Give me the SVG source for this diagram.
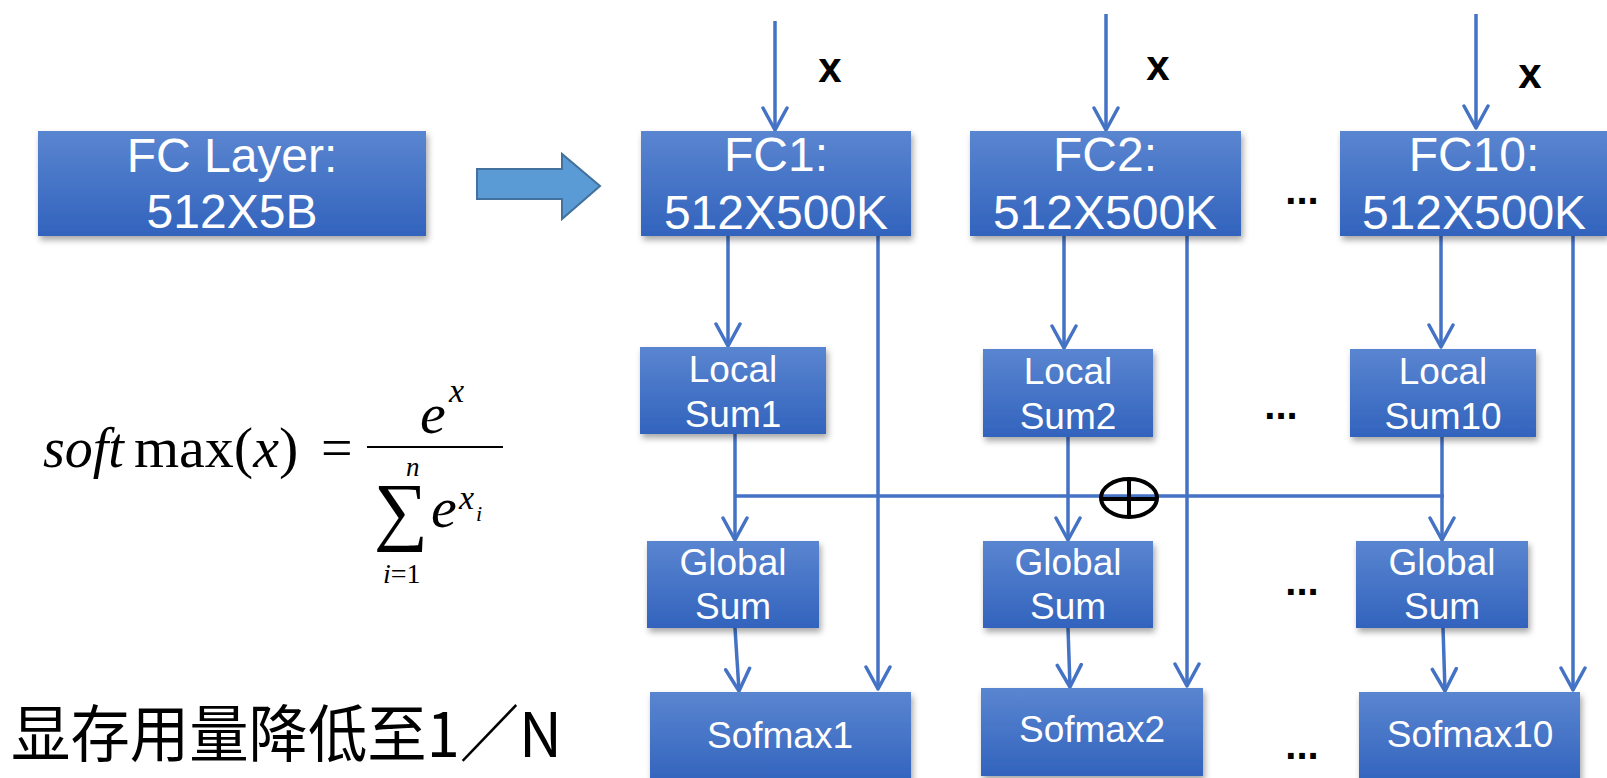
<svg xmlns="http://www.w3.org/2000/svg" width="1607" height="778" viewBox="0 0 1607 778">
<style>
.box{fill:url(#g);filter:url(#sh)}
.t{font-family:"Liberation Sans",Arial,sans-serif;fill:#fff;text-anchor:middle}
.big{font-size:48px}
.sm{font-size:37px}
.c{stroke:#4472c4;stroke-width:3.5;fill:none}
.ca{stroke:#4472c4;stroke-width:3.5;fill:none;marker-end:url(#arr)}
.lbl{font-family:"Liberation Sans",Arial,sans-serif;font-weight:bold;font-size:42px;fill:#000;text-anchor:middle}
.dots{font-family:"Liberation Sans",Arial,sans-serif;font-weight:bold;font-size:40px;fill:#000;text-anchor:middle}
.m{font-family:"Liberation Serif","Times New Roman",serif;fill:#000}
</style>
<defs>
<linearGradient id="g" x1="0" y1="0" x2="0" y2="1">
<stop offset="0" stop-color="#5a85d0"/>
<stop offset="1" stop-color="#3263bd"/>
</linearGradient>
<filter id="sh" x="-10%" y="-10%" width="120%" height="130%">
<feDropShadow dx="2" dy="4" stdDeviation="3" flood-color="#000" flood-opacity="0.35"/>
</filter>
<marker id="arr" viewBox="0 0 26 28" markerUnits="userSpaceOnUse" markerWidth="26" markerHeight="28" refX="24" refY="14" orient="auto">
<path d="M2,2 L24,14 L2,26" fill="none" stroke="#4472c4" stroke-width="3.5" stroke-linejoin="round" stroke-linecap="round"/>
</marker>
</defs>
<rect width="1607" height="778" fill="#fff"/>

<g id="connectors">
<line class="ca" x1="775" y1="21" x2="775" y2="130"/>
<line class="ca" x1="1106" y1="14" x2="1106" y2="130"/>
<line class="ca" x1="1476" y1="14" x2="1476" y2="128"/>
<line class="ca" x1="728" y1="236" x2="728" y2="346"/>
<line class="ca" x1="878" y1="236" x2="878" y2="689"/>
<line class="ca" x1="1064" y1="236" x2="1064" y2="348"/>
<line class="ca" x1="1187" y1="236" x2="1187" y2="686"/>
<line class="ca" x1="1441" y1="236" x2="1441" y2="347"/>
<line class="ca" x1="1573" y1="236" x2="1573" y2="690"/>
<line class="ca" x1="735" y1="434" x2="735" y2="540"/>
<line class="ca" x1="1068" y1="437" x2="1068" y2="540"/>
<line class="ca" x1="1442" y1="437" x2="1442" y2="540"/>
<line class="c" x1="735" y1="496" x2="1444" y2="496"/>
<line class="ca" x1="735" y1="628" x2="739" y2="691"/>
<line class="ca" x1="1068" y1="628" x2="1070" y2="687"/>
<line class="ca" x1="1443" y1="628" x2="1445" y2="691"/>
</g>

<g id="oplus">
<ellipse cx="1129" cy="498" rx="28" ry="19" fill="none" stroke="#000" stroke-width="4"/>
<line x1="1129" y1="479" x2="1129" y2="517" stroke="#000" stroke-width="4"/>
<line x1="1101" y1="499" x2="1157" y2="499" stroke="#000" stroke-width="4"/>
</g>

<g id="xlabels">
<text class="lbl" x="830" y="82">x</text>
<text class="lbl" x="1158" y="80">x</text>
<text class="lbl" x="1530" y="88">x</text>
</g>

<g id="blockarrow">
<polygon points="477,169 562,169 562,154 600,186 562,219 562,199 477,199" fill="#5b9bd5" stroke="#41719c" stroke-width="2"/>
</g>

<g id="fclayer">
<rect class="box" x="38" y="131" width="388" height="105"/>
<text class="t big" x="232" y="172">FC Layer:</text>
<text class="t big" x="232" y="228">512X5B</text>
</g>

<g id="fc1">
<rect class="box" x="641" y="131" width="270" height="105"/>
<text class="t big" x="776" y="171">FC1:</text>
<text class="t big" x="776" y="229">512X500K</text>
</g>
<g id="fc2">
<rect class="box" x="970" y="131" width="271" height="105"/>
<text class="t big" x="1105" y="171">FC2:</text>
<text class="t big" x="1105" y="229">512X500K</text>
</g>
<g id="fc10">
<rect class="box" x="1340" y="131" width="267" height="105"/>
<text class="t big" x="1474" y="171">FC10:</text>
<text class="t big" x="1474" y="229">512X500K</text>
</g>

<g id="local1">
<rect class="box" x="640" y="347" width="186" height="87"/>
<text class="t sm" x="733" y="382">Local</text>
<text class="t sm" x="733" y="427">Sum1</text>
</g>
<g id="local2">
<rect class="box" x="983" y="349" width="170" height="88"/>
<text class="t sm" x="1068" y="384">Local</text>
<text class="t sm" x="1068" y="429">Sum2</text>
</g>
<g id="local10">
<rect class="box" x="1350" y="349" width="186" height="88"/>
<text class="t sm" x="1443" y="384">Local</text>
<text class="t sm" x="1443" y="429">Sum10</text>
</g>

<g id="global1">
<rect class="box" x="647" y="541" width="172" height="87"/>
<text class="t sm" x="733" y="575">Global</text>
<text class="t sm" x="733" y="619">Sum</text>
</g>
<g id="global2">
<rect class="box" x="983" y="541" width="170" height="87"/>
<text class="t sm" x="1068" y="575">Global</text>
<text class="t sm" x="1068" y="619">Sum</text>
</g>
<g id="global10">
<rect class="box" x="1356" y="541" width="172" height="87"/>
<text class="t sm" x="1442" y="575">Global</text>
<text class="t sm" x="1442" y="619">Sum</text>
</g>

<g id="sofmax1">
<rect class="box" x="650" y="692" width="261" height="92"/>
<text class="t sm" x="780" y="748">Sofmax1</text>
</g>
<g id="sofmax2">
<rect class="box" x="981" y="688" width="222" height="88"/>
<text class="t sm" x="1092" y="742">Sofmax2</text>
</g>
<g id="sofmax10">
<rect class="box" x="1359" y="692" width="221" height="92"/>
<text class="t sm" x="1470" y="747">Sofmax10</text>
</g>

<g id="ellipses">
<text class="dots" x="1302" y="204">...</text>
<text class="dots" x="1281" y="419">...</text>
<text class="dots" x="1302" y="595">...</text>
<text class="dots" x="1302" y="759">...</text>
</g>

<g id="formula">
<text class="m" x="43" y="467" font-size="56"><tspan font-style="italic">soft</tspan></text>
<text class="m" x="134" y="467" font-size="58">max(<tspan font-style="italic">x</tspan>)</text>
<text class="m" x="321" y="467" font-size="56">=</text>
<line x1="367" y1="447" x2="503" y2="447" stroke="#000" stroke-width="2"/>
<text class="m" x="420" y="433" font-size="58" font-style="italic">e</text>
<text class="m" x="449" y="402" font-size="34" font-style="italic">x</text>
<text class="m" x="401" y="536" font-size="76" text-anchor="middle">∑</text>
<text class="m" x="406" y="476" font-size="27" font-style="italic">n</text>
<text class="m" x="383" y="583" font-size="28"><tspan font-style="italic">i</tspan>=1</text>
<text class="m" x="431" y="527" font-size="58" font-style="italic">e</text>
<text class="m" x="459" y="509" font-size="34" font-style="italic">x</text>
<text class="m" x="476" y="521" font-size="22" font-style="italic">i</text>
</g>

<g id="note">
<text x="11" y="757" font-family="'Noto Sans CJK SC',sans-serif" font-size="62" fill="#000" textLength="551" lengthAdjust="spacingAndGlyphs">显存用量降低至1／N</text>
</g>
</svg>
